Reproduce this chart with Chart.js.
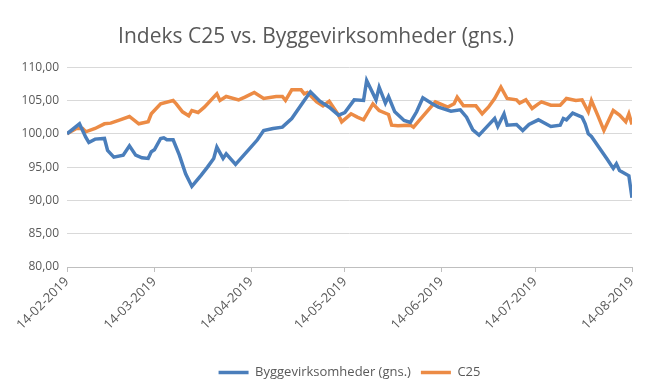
<!DOCTYPE html>
<html>
<head>
<meta charset="utf-8">
<script src="https://cdn.jsdelivr.net/npm/chart.js@4.4.1/dist/chart.umd.min.js"></script>
<style>
  html, body { margin: 0; padding: 0; background: #fff; }
  #wrap { width: 660px; height: 390px; }
</style>
</head>
<body>
<div id="wrap"><canvas id="myChart" width="660" height="390"></canvas></div>
<script>
// x axis: days counted from 14-02-2019, ticks every month
const tickDays = [0, 28, 59, 89, 120, 150, 181];
const tickLabels = ['14-02-2019', '14-03-2019', '14-04-2019', '14-05-2019', '14-06-2019', '14-07-2019', '14-08-2019'];

// Byggevirksomheder (gns.)
const byggDays = [0, 4, 6, 7, 9, 12, 13, 15, 18, 20, 22, 24, 26, 27, 28, 30, 31, 32, 34, 36, 38, 40, 43, 45, 47, 48, 50, 51, 54, 58, 61, 63, 66, 69, 72, 76, 78, 81, 84, 87, 89, 92, 95, 96, 99, 100, 102, 103, 105, 108, 110, 112, 114, 117, 119, 123, 126, 128, 130, 132, 135, 137, 138, 140, 141, 144, 146, 148, 151, 155, 158, 159, 160, 162, 165, 166, 167, 168, 173, 175, 176, 177, 180, 181];
const byggValues = [100, 101.5, 99.5, 98.7, 99.2, 99.3, 97.5, 96.5, 96.8, 98.2, 96.8, 96.4, 96.3, 97.3, 97.6, 99.3, 99.4, 99.1, 99.1, 96.8, 94, 92.1, 93.8, 95, 96.3, 98, 96.3, 97, 95.4, 97.5, 99.1, 100.5, 100.8, 101, 102.3, 105, 106.3, 104.9, 104, 102.8, 103.2, 105.1, 105, 108, 105.1, 107, 104.6, 105.6, 103.3, 102, 101.7, 103.3, 105.4, 104.5, 104, 103.4, 103.6, 102.5, 100.6, 99.8, 101.3, 102.3, 101.1, 103, 101.3, 101.4, 100.5, 101.4, 102.1, 101.1, 101.3, 102.3, 102.1, 103.1, 102.5, 101.5, 100, 99.6, 96.2, 94.8, 95.5, 94.5, 93.7, 90.4];

// C25
const c25Days = [0, 3, 5, 6, 9, 12, 14, 17, 20, 23, 26, 27, 30, 34, 35, 37, 39, 40, 42, 44, 48, 49, 51, 55, 57, 60, 63, 67, 69, 70, 72, 75, 76, 77, 80, 82, 84, 87, 88, 91, 93, 95, 98, 100, 103, 104, 106, 110, 111, 113, 118, 119, 122, 124, 125, 127, 131, 133, 135, 137, 139, 141, 144, 145, 147, 149, 151, 152, 155, 158, 160, 163, 165, 167, 168, 170, 172, 175, 177, 179, 180, 181];
const c25Values = [100, 100.8, 100.8, 100.3, 100.8, 101.5, 101.6, 102.1, 102.6, 101.5, 101.8, 103, 104.5, 105, 104.5, 103.3, 102.7, 103.5, 103.2, 104, 106, 105, 105.6, 105.1, 105.5, 106.2, 105.3, 105.6, 105.6, 105, 106.6, 106.6, 106, 106.2, 104.8, 104.2, 104.9, 102.8, 101.8, 103, 102.5, 102.1, 104.5, 103.5, 102.9, 101.3, 101.2, 101.3, 101, 102.1, 104.8, 104.6, 104, 104.5, 105.5, 104.2, 104.2, 103, 104, 105.3, 107, 105.3, 105.1, 104.6, 105.1, 103.8, 104.5, 104.8, 104.3, 104.3, 105.3, 105, 105.1, 103.3, 105, 102.8, 100.5, 103.5, 102.8, 101.8, 103, 101.4];

const toPoints = (days, values) => days.map((d, i) => ({ x: d, y: values[i] }));

const textColor = '#595959';
const font = "'Open Sans', 'DejaVu Sans', sans-serif";

const data = {
    datasets: [{
        label: 'Byggevirksomheder (gns.)',
        data: toPoints(byggDays, byggValues),
        borderColor: '#4a7ebb',
        backgroundColor: '#4a7ebb',
        borderWidth: 3.5,
        pointRadius: 0,
        tension: 0
    }, {
        label: 'C25',
        data: toPoints(c25Days, c25Values),
        borderColor: '#ec8b45',
        backgroundColor: '#ec8b45',
        borderWidth: 3.5,
        pointRadius: 0,
        tension: 0
    }]
};

const config = {
    type: 'line',
    data: data,
    options: {
        responsive: false,
        animation: false,
        layout: { padding: { left: 0, right: 28, top: 0, bottom: 1 } },
        plugins: {
            title: {
                display: true,
                text: 'Indeks C25 vs. Byggevirksomheder (gns.)',
                color: textColor,
                font: { family: font, size: 21, weight: 'normal' },
                padding: { top: 24, bottom: 18 }
            },
            legend: {
                position: 'bottom',
                fullSize: false,
                labels: {
                    color: textColor,
                    font: { family: font, size: 13 },
                    usePointStyle: true,
                    pointStyle: 'line',
                    pointStyleWidth: 30,
                    boxHeight: 13,
                    padding: 10
                }
            },
            tooltip: { enabled: false }
        },
        scales: {
            x: {
                type: 'linear',
                min: 0,
                max: 181,
                afterBuildTicks: (scale) => {
                    scale.ticks = tickDays.map(v => ({ value: v }));
                },
                afterFit: (scale) => { scale.height = 89; },
                ticks: {
                    color: textColor,
                    font: { family: font, size: 13 },
                    minRotation: 45,
                    maxRotation: 45,
                    padding: 2,
                    callback: (v) => tickLabels[tickDays.indexOf(v)]
                },
                grid: { drawOnChartArea: false, color: '#bfbfbf', tickLength: 5 },
                border: { color: '#bfbfbf' }
            },
            y: {
                min: 80,
                max: 110,
                afterFit: (scale) => { scale.width = 67; },
                ticks: {
                    stepSize: 5,
                    color: textColor,
                    font: { family: font, size: 12 },
                    padding: 8,
                    callback: (v) => v.toFixed(2).replace('.', ',')
                },
                grid: { color: '#d9d9d9', drawTicks: false },
                border: { display: false }
            }
        }
    }
};

const myChart = new Chart(document.getElementById('myChart'), config);
</script>
</body>
</html>
